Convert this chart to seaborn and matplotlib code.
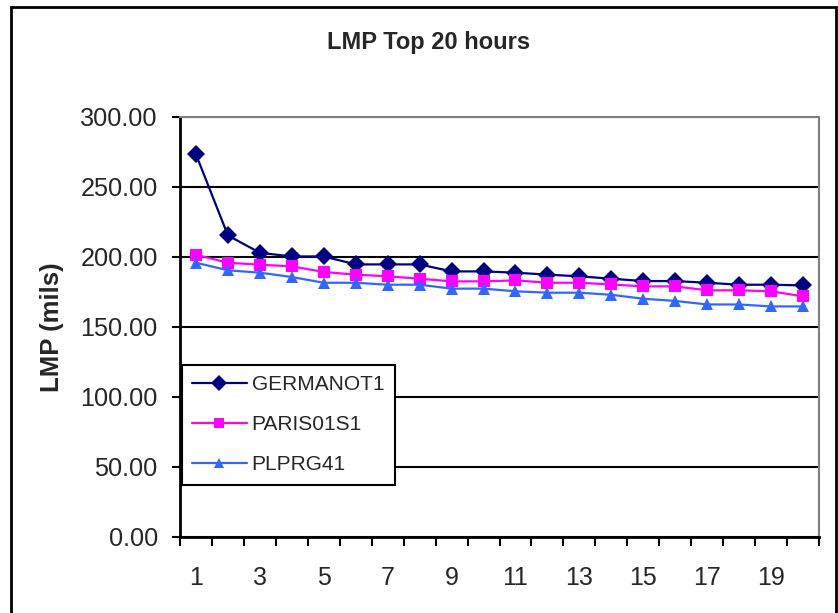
import matplotlib
matplotlib.use("Agg")
import matplotlib.pyplot as plt
from matplotlib.patches import Rectangle
from matplotlib.ticker import FixedLocator, NullFormatter, FixedFormatter
import numpy as np
import pandas as pd
import seaborn as sns

# Hourly LMP values for the top 20 hours, per node
hours = list(range(1, 21))
germanot1 = [273.3, 215.4, 203.0, 200.4, 200.4, 194.7, 194.7, 194.7, 189.7, 189.7,
             188.8, 187.4, 186.2, 184.5, 182.8, 182.8, 181.6, 180.2, 180.2, 179.7]
paris01s1 = [201.6, 195.9, 194.5, 193.3, 189.3, 187.4, 186.2, 184.5, 182.6, 182.6,
             183.3, 181.6, 181.6, 180.4, 179.0, 179.0, 176.2, 176.2, 175.5, 171.9]
plprg41 = [195.9, 190.5, 188.8, 185.7, 181.6, 181.6, 180.2, 180.2, 177.4, 177.4,
           175.5, 174.5, 174.5, 173.0, 170.2, 168.6, 166.1, 166.1, 164.7, 164.7]
series_names = ["GERMANOT1", "PARIS01S1", "PLPRG41"]
y_ticks = [0, 50, 100, 150, 200, 250, 300]
x_labels = [1, 3, 5, 7, 9, 11, 13, 15, 17, 19]

df = pd.DataFrame({
    "hour": hours * 3,
    "lmp": germanot1 + paris01s1 + plprg41,
    "node": [n for n in series_names for _ in hours],
})

sns.set_theme(style="white")
plt.rcParams["font.family"] = ["Liberation Sans", "DejaVu Sans"]

fig = plt.figure(figsize=(8.38, 6.13), dpi=100)
ax = fig.add_axes([180 / 838, 1 - 537 / 613, (819 - 180) / 838, (537 - 117) / 613])

palette = {"GERMANOT1": "#000080", "PARIS01S1": "#FF00FF", "PLPRG41": "#3366FF"}
markers = {"GERMANOT1": "D", "PARIS01S1": "s", "PLPRG41": "^"}
sns.lineplot(data=df, x="hour", y="lmp", hue="node", style="node",
             palette=palette, markers=markers, dashes=False,
             linewidth=1.6, markersize=9, markeredgewidth=0,
             ax=ax, legend=True, zorder=3)

ax.set_xlim(0.5, 20.5)
ax.set_ylim(0, 300)
ax.set_yticks(y_ticks)
ax.set_yticklabels([f"{v:.2f}" for v in y_ticks])
ax.yaxis.grid(True, color="black", linewidth=1.5)
ax.set_axisbelow(True)

# category boundary ticks, labels on odd hours
ax.xaxis.set_major_locator(FixedLocator(np.arange(0.5, 21, 1)))
ax.xaxis.set_major_formatter(NullFormatter())
ax.xaxis.set_minor_locator(FixedLocator(x_labels))
ax.xaxis.set_minor_formatter(FixedFormatter([str(v) for v in x_labels]))
ax.tick_params(axis="x", which="major", direction="out", length=6.5, width=1.5,
               color="black", bottom=True)
ax.tick_params(axis="x", which="minor", length=0, pad=21, labelsize=18)
ax.tick_params(axis="y", direction="out", length=6, width=1.5, color="black",
               left=True, pad=10, labelsize=18.2)

for side in ["left", "bottom"]:
    ax.spines[side].set_color("black")
    ax.spines[side].set_linewidth(2)
for side in ["top", "right"]:
    ax.spines[side].set_color("#808080")
    ax.spines[side].set_linewidth(1.5)

ax.set_xlabel("")
ax.set_ylabel("LMP (mils)", fontsize=18.5, fontweight="bold", labelpad=12)

fig.text(429 / 838, 1 - 43 / 613, "LMP Top 20 hours", ha="center", va="center",
         fontsize=17, fontweight="bold")

leg = ax.legend(loc="upper left", bbox_to_anchor=(0.003, 1 - (365 - 117) / 420),
                frameon=True, fancybox=False, edgecolor="black", framealpha=1,
                fontsize=15, handlelength=2.6, borderpad=0.5, labelspacing=1.0,
                handletextpad=0.25, borderaxespad=0, markerscale=0.85)
leg.get_frame().set_linewidth(1.5)
leg.set_title(None)

# chart border
fig.add_artist(Rectangle((11 / 838, -0.05), (836 - 11) / 838, 1.05 - 7 / 613,
                         transform=fig.transFigure, fill=False,
                         edgecolor="black", linewidth=2))

fig.savefig("out.png", dpi=100)
